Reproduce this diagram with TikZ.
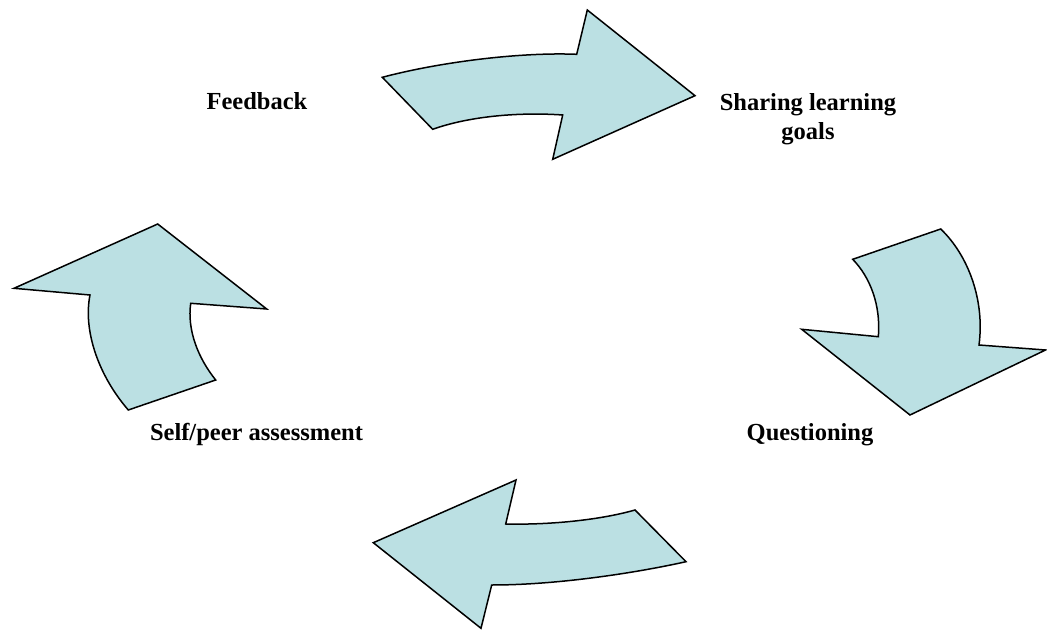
\documentclass[tikz,border=0pt]{standalone}
\usepackage{fontspec}
\setmainfont{Liberation Serif}
\definecolor{arrowfill}{RGB}{187,224,227}
\begin{document}
\begin{tikzpicture}[x=1pt,y=-1pt,
  bigarrow/.style={fill=arrowfill,draw=black,line width=1.5pt,line join=miter},
  lbl/.style={font=\fontsize{24.5}{29}\selectfont\bfseries,inner sep=0pt}]
\useasboundingbox (0,0) rectangle (1047,631);
% top arrow (Feedback -> Sharing)
\draw[bigarrow] (382.3,77.3) .. controls (440,62) and (520,52) .. (576.7,54.3)
  -- (587.3,10) -- (695,95.7) -- (552.7,159.3) -- (562.7,115)
  .. controls (520,112) and (470,116) .. (432.7,129.3) -- cycle;
% right arrow
\draw[bigarrow] (940.7,229) .. controls (968,255) and (985,300) .. (979,345)
  -- (1045.5,350) -- (910,415) -- (801.7,329.3) -- (878.3,336.7)
  .. controls (881,305) and (870,277) .. (852.7,259.3) -- cycle;
% bottom arrow
\draw[bigarrow] (635,510) -- (686,561.7)
  .. controls (640,572) and (560,585) .. (491.7,585)
  -- (481,628.3) -- (373.3,542.7) -- (516,480) -- (505.7,524)
  .. controls (550,525) and (600,520) .. cycle;
% left arrow
\draw[bigarrow] (128.3,410) -- (215.7,380)
  .. controls (198,358) and (187,330) .. (190.7,303.3)
  -- (266.7,309) -- (157.7,224) -- (14,288.3) -- (90,295)
  .. controls (83,330) and (98,375) .. cycle;
% labels
\node[lbl,anchor=base] (feedback) at (257,110) {Feedback};
\node[lbl,anchor=base] (sharing) at (808,111) {\begin{tabular}[t]{@{}c@{}}Sharing learning\\goals\end{tabular}};
\node[lbl,anchor=base] (questioning) at (810,440) {Questioning};
\node[lbl,anchor=base] (selfpeer) at (256.5,440) {Self/peer assessment};
\end{tikzpicture}
\end{document}
